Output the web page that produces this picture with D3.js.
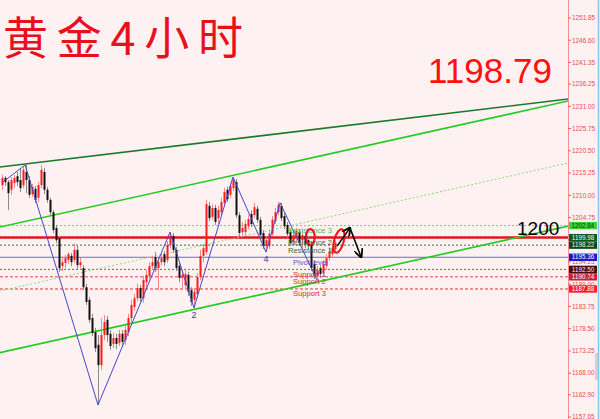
<!DOCTYPE html>
<html><head><meta charset="utf-8">
<script src="https://cdn.jsdelivr.net/npm/d3@7"></script>
<style>html,body{margin:0;padding:0;background:#fdf1f1;} svg{display:block}</style>
</head><body><svg id="c" width="600" height="419"></svg>
<script>
// ---------- DATA ----------
const opens=[1212.4,1214.1,1213.1,1211.3,1212.9,1214.5,1213.6,1212.4,1215.5,1213.6,
1210.3,1211.5,1209.4,1212.4,1215.5,1211.3,1208.9,1206.0,1202.3,1199.9,
1193.3,1194.0,1194.7,1195.7,1194.7,1197.1,1193.5,1192.8,1188.3,1185.3,
1181.0,1177.7,1174.7,1169.9,1177.0,1180.6,1177.3,1174.9,1176.3,1175.1,
1177.3,1175.8,1177.7,1181.0,1183.6,1185.7,1188.1,1185.7,1189.5,1190.9,
1193.3,1195.4,1192.8,1194.2,1196.1,1194.7,1198.3,1200.4,1197.1,1193.3,
1190.5,1188.8,1191.2,1187.6,1185.3,1186.7,1190.7,1195.7,1196.6,1207.5,
1204.9,1207.0,1204.6,1206.0,1208.2,1211.3,1210.1,1211.7,1213.1,1205.3,
1201.3,1201.3,1202.7,1205.6,1205.3,1206.8,1204.2,1201.1,1198.0,1198.0,
1200.9,1203.9,1206.0,1207.5,1205.1,1203.0,1201.3,1199.0,1199.9,1201.3,
1199.4,1200.4,1199.4,1198.3,1193.8,1191.0,1192.8,1191.7,1193.3,1195.2,
1196.1,1197.3];
const highs=[1214.8,1214.5,1213.6,1214.3,1214.8,1215.5,1216.4,1216.9,1217.2,1214.5,
1212.7,1212.2,1213.1,1217.2,1216.4,1212.0,1209.4,1206.5,1203.0,1200.4,
1195.4,1195.9,1196.6,1196.4,1198.7,1198.3,1195.2,1193.5,1189.1,1186.0,
1182.0,1178.7,1177.0,1181.0,1181.7,1181.5,1178.2,1177.5,1177.3,1178.2,
1178.2,1179.4,1182.0,1185.3,1186.7,1189.1,1188.8,1190.9,1192.4,1194.2,
1195.7,1196.6,1195.2,1196.1,1196.8,1199.2,1201.3,1201.1,1197.8,1194.0,
1192.4,1192.4,1191.9,1188.3,1188.1,1191.7,1197.1,1198.5,1208.9,1208.4,
1207.9,1207.7,1207.5,1209.4,1211.7,1212.0,1212.9,1214.3,1213.8,1206.0,
1203.7,1204.2,1205.3,1206.5,1208.2,1207.5,1204.9,1201.8,1200.1,1201.8,
1205.1,1207.0,1208.4,1208.2,1205.8,1203.7,1202.0,1201.6,1202.3,1202.0,
1201.6,1201.1,1200.4,1199.0,1194.7,1193.3,1193.5,1194.7,1196.1,1197.8,
1198.3,1199.4];
const lows=[1211.3,1212.2,1206.5,1210.1,1211.7,1212.2,1210.8,1211.7,1210.5,1209.4,
1209.6,1208.2,1208.4,1211.7,1210.3,1208.2,1205.3,1201.1,1198.7,1191.9,
1192.1,1192.8,1193.8,1193.3,1194.0,1192.4,1192.8,1187.6,1184.1,1179.9,
1176.8,1173.0,1160.5,1168.7,1175.8,1175.4,1173.5,1173.9,1173.7,1174.4,
1174.2,1174.7,1176.8,1180.1,1182.7,1185.0,1184.8,1184.6,1188.1,1190.2,
1192.4,1191.9,1187.6,1193.5,1193.3,1194.0,1197.5,1196.4,1192.1,1189.5,
1187.6,1187.9,1186.2,1183.9,1183.4,1185.7,1190.0,1194.2,1195.9,1203.9,
1204.2,1203.0,1203.2,1205.3,1207.5,1208.4,1209.4,1211.0,1204.6,1200.4,
1200.4,1200.6,1202.0,1202.5,1204.6,1203.5,1199.9,1197.3,1196.6,1197.3,
1200.4,1203.2,1205.3,1203.9,1202.0,1199.9,1198.0,1198.3,1199.2,1198.0,
1197.5,1197.5,1197.3,1192.1,1190.2,1190.0,1190.5,1190.9,1192.4,1194.5,
1195.2,1196.6];
const closes=[1214.1,1213.1,1210.5,1213.6,1214.1,1213.1,1211.7,1216.0,1213.6,1210.1,
1212.0,1208.9,1212.4,1216.0,1211.3,1208.9,1206.0,1201.8,1199.4,1192.8,
1194.2,1195.2,1196.1,1194.2,1197.1,1193.5,1194.2,1188.3,1184.8,1180.6,
1177.5,1173.9,1169.9,1177.0,1180.1,1177.0,1174.4,1176.3,1174.9,1177.3,
1175.4,1178.2,1181.0,1184.1,1185.7,1188.1,1185.7,1190.0,1191.2,1193.3,
1194.2,1192.8,1194.2,1195.2,1194.2,1198.3,1200.4,1197.1,1192.8,1190.5,
1191.2,1191.4,1187.2,1184.8,1187.2,1190.7,1195.7,1197.5,1207.9,1204.6,
1207.0,1203.7,1206.5,1208.4,1210.8,1209.1,1212.2,1213.6,1205.3,1201.1,
1202.3,1203.2,1204.4,1203.2,1207.2,1204.2,1200.6,1198.0,1199.4,1200.9,
1204.2,1206.0,1207.7,1204.6,1202.7,1200.9,1198.7,1200.6,1201.6,1198.7,
1200.6,1198.5,1198.0,1192.8,1191.0,1192.4,1191.4,1193.8,1195.2,1196.8,
1197.5,1198.8];

const tickLabels=["1251.85","1246.60","1241.35","1236.25","1231.00","1225.75","1220.50","1215.25","1210.00","1204.75","1199.50","1194.25","1189.00","1183.75","1178.50","1173.25","1168.00","1162.90","1157.65"];

const levelNames=["Resistance 3","Resistance 2","Resistance 1","Pivot level","Support 1","Support 2","Support 3"];
const levelValues=[1202.84,1199.98,1198.22,1195.36,1192.50,1190.74,1187.88];
const keyLevel=1200;
const lastPrice="1198.79";
const titleText="黄金4小时";

// zigzag pivots (bar index, price) and labels
const zigIdx=[0.3,7.7,32,56,64,77,88,92.7,105];
const zigPrice=[1213.1,1217.15,1160.5,1201.3,1183.4,1214.3,1196.6,1208.2,1190.0];
const zigLabels=[{k:4,t:"2"},{k:6,t:"4"}];

// trend lines: [idx0, price0, idx1, price1]
const trendDark=[-1,1216.65,189,1232.75];
const trendUpper=[-1,1202.46,189,1232.3];
const trendLower=[-1,1172.8,189,1202.75];
const trendDotted=[-1,1187.35,189,1217.67];

// hand drawn annotations
const arrowPts=[[111.7,1198.0],[116,1202.3],[119.7,1195.4]];
const ellipseCenters=[[102.8,1200.15],[112.3,1199.2]];

// ---------- DRAW ----------
const W=600,H=419,plotR=568;
const svg=d3.select("#c");
svg.append("rect").attr("width",W).attr("height",H).attr("fill","#fdf1f1");

const x=d3.scaleLinear().domain([0,111]).range([2,335]);
const y=d3.scaleLinear().domain([1157.65,1251.85]).range([417,18]);

const defs=svg.append("defs");
defs.append("clipPath").attr("id","pc").append("rect").attr("x",0).attr("y",0).attr("width",plotR).attr("height",H);
const mk=defs.append("marker").attr("id","ah").attr("viewBox","0 0 10 10").attr("refX",9).attr("refY",5)
  .attr("markerWidth",6).attr("markerHeight",6).attr("orient","auto");
mk.append("path").attr("d","M0,0 L10,5 L0,10").attr("fill","none").attr("stroke","#000").attr("stroke-width",2);

const g=svg.append("g").attr("clip-path","url(#pc)");

// level lines
const levelStyle=[
 {c:"#66dd55",d:"2,2",w:1},{c:"#2e7d32",d:"2,2",w:1},{c:"#3d6b3d",d:"2,2",w:1},
 {c:"#6a6ad8",d:null,w:1},{c:"#b04848",d:"2,2",w:1},{c:"#e04050",d:"3,2",w:1},{c:"#ee3030",d:"3,2",w:1}];
levelValues.forEach((v,k)=>{
  g.append("line").attr("x1",0).attr("x2",plotR).attr("y1",y(v)).attr("y2",y(v))
   .attr("stroke",levelStyle[k].c).attr("stroke-width",levelStyle[k].w)
   .attr("stroke-dasharray",levelStyle[k].d);
});
// key 1200 level
g.append("line").attr("x1",0).attr("x2",plotR).attr("y1",y(keyLevel)).attr("y2",y(keyLevel))
 .attr("stroke","#e3161e").attr("stroke-width",2.5);

// trend lines
function tl(a,col,w,dash){
  g.append("line").attr("x1",x(a[0])).attr("y1",y(a[1])).attr("x2",x(a[2])).attr("y2",y(a[3]))
   .attr("stroke",col).attr("stroke-width",w).attr("stroke-dasharray",dash||null);
}
tl(trendDotted,"#88dd77",1,"2,2");
tl(trendDark,"#1a7a2a",1.6);
tl(trendUpper,"#22cc22",1.6);
tl(trendLower,"#22cc22",1.6);

// candles
const idx=d3.range(opens.length);
const up=i=>closes[i]>=opens[i];
g.selectAll("line.wick").data(idx).enter().append("line")
 .attr("x1",i=>x(i)+0.5).attr("x2",i=>x(i)+0.5).attr("y1",i=>y(highs[i])).attr("y2",i=>y(lows[i]))
 .attr("stroke",i=>up(i)?"#f08a8a":"#8a8a8a").attr("stroke-width",1);
g.selectAll("rect.body").data(idx).enter().append("rect")
 .attr("x",i=>x(i)-0.5).attr("width",2)
 .attr("y",i=>y(Math.max(opens[i],closes[i])))
 .attr("height",i=>Math.max(1,Math.abs(y(opens[i])-y(closes[i]))))
 .attr("fill",i=>up(i)?"#ff1c1c":"#111");

// zigzag
const zz=d3.line().x(d=>x(d[0])).y(d=>y(d[1]));
g.append("path").attr("d",zz(zigIdx.map((v,k)=>[v,zigPrice[k]]))).attr("fill","none")
 .attr("stroke","#4646c8").attr("stroke-width",1);
zigLabels.forEach(l=>{
  g.append("text").attr("x",x(zigIdx[l.k])).attr("y",y(zigPrice[l.k])+10).attr("text-anchor","middle")
   .attr("font-family","Liberation Sans, Arial").attr("font-size",9).attr("fill","#3a3aa0").text(l.t);
});

// level names
const nameCol=["#4cbb44","#3d6b3d","#3d6b3d","#5555cc","#b03a3a","#c23a3a","#d03030"];
levelValues.forEach((v,k)=>{
  g.append("text").attr("x",k<3?288:293).attr("y",y(v)+7.5)
   .attr("font-family","Liberation Sans, Arial").attr("font-size",7.6).attr("fill",nameCol[k]).text(levelNames[k]);
});

// ellipses
ellipseCenters.forEach((c,k)=>{
  g.append("ellipse").attr("cx",x(c[0])).attr("cy",y(c[1])).attr("rx",k?4.8:4.3).attr("ry",k?12:8)
   .attr("transform",k?`rotate(15 ${x(c[0])} ${y(c[1])})`:null)
   .attr("fill","none").attr("stroke","#ee1111").attr("stroke-width",2);
});
// arrows
for(let k=0;k<arrowPts.length-1;k++){
  g.append("line").attr("x1",x(arrowPts[k][0])).attr("y1",y(arrowPts[k][1]))
   .attr("x2",x(arrowPts[k+1][0])).attr("y2",y(arrowPts[k+1][1]))
   .attr("stroke","#000").attr("stroke-width",1.5).attr("marker-end","url(#ah)");
}

// 1200 label
svg.append("text").attr("x",517).attr("y",y(keyLevel)-3).attr("font-family","Liberation Sans, Arial")
 .attr("font-size",19).attr("fill","#000").text(String(keyLevel));

// title and big price
svg.append("text").attr("x",3).attr("y",55).attr("font-family","Noto Sans CJK SC").attr("font-weight",400)
 .attr("font-size",45).attr("fill","#e8101c").attr("textLength",240).attr("lengthAdjust","spacing").text(titleText);
svg.append("text").attr("x",428).attr("y",83).attr("font-family","Liberation Sans, Arial")
 .attr("font-size",35).attr("fill","#ff1010").text(lastPrice);

// right axis
svg.append("line").attr("x1",plotR+0.5).attr("x2",plotR+0.5).attr("y1",0).attr("y2",H).attr("stroke","#f09090").attr("stroke-width",1);
svg.append("rect").attr("x",595).attr("y",353).attr("width",3).attr("height",27).attr("fill","#d8d0d0");
svg.append("line").attr("x1",598.5).attr("x2",598.5).attr("y1",0).attr("y2",H).attr("stroke","#86c6e6").attr("stroke-width",1.5);
tickLabels.forEach(t=>{
  const yy=y(+t);
  svg.append("line").attr("x1",plotR).attr("x2",plotR+3).attr("y1",yy).attr("y2",yy).attr("stroke","#e06060");
  svg.append("text").attr("x",572).attr("y",yy+2.3).attr("font-family","Liberation Sans, Arial")
   .attr("font-size",6.4).attr("fill","#e85050").text(t);
});

// price tags
const tagBg=["#3fcf3f","#0f5a22","#0c4a1c","#1a1ac8","#4a0c0c","#c81e3c","#ff1a28"];
const tagFg=["#0a3a0a","#e8ffe8","#e8ffe8","#ffffff","#ffe8e8","#ffffff","#ffffff"];
levelValues.forEach((v,k)=>{
  const yy=y(v);
  svg.append("rect").attr("x",569).attr("y",yy-3.7).attr("width",28).attr("height",7.4).attr("fill",tagBg[k]);
  svg.append("text").attr("x",583).attr("y",yy+2.2).attr("text-anchor","middle").attr("font-family","Liberation Sans, Arial")
   .attr("font-size",6.3).attr("fill",tagFg[k]).text(v.toFixed(2));
});
</script></body></html>
